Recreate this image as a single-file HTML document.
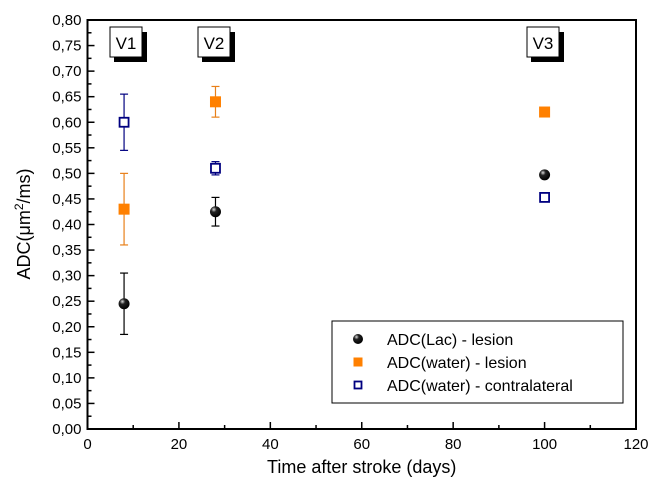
<!DOCTYPE html>
<html><head><meta charset="utf-8"><style>
body{margin:0;background:#fff;width:658px;height:484px;overflow:hidden}
svg{font-family:"Liberation Sans",Arial,sans-serif}
</style></head><body>
<svg id="c" width="658" height="484"></svg>
<script>
const days=[8,28,100];
const lacVals=[0.245,0.425,0.497];
const lacErr=[0.06,0.028,0];
const waterVals=[0.43,0.64,0.62];
const waterErr=[0.07,0.03,0];
const contraVals=[0.60,0.51,0.453];
const contraErr=[0.055,0.013,0];
const xTicks=[0,20,40,60,80,100,120];
const yTicks=[0,0.05,0.1,0.15,0.2,0.25,0.3,0.35,0.4,0.45,0.5,0.55,0.6,0.65,0.7,0.75,0.8];
const visitLabels=["V1","V2","V3"];

const L=87.5,R=636,T=20,B=429;
const sx=v=>L+(v-0)/120*(R-L);
const sy=v=>B-(v-0)/0.8*(B-T);
const svg=document.getElementById('c');
const NS='http://www.w3.org/2000/svg';
function mk(tag,attrs,parent){const e=document.createElementNS(NS,tag);for(const k in attrs)e.setAttribute(k,attrs[k]);(parent||svg).appendChild(e);return e;}

// frame
const frame=mk('rect',{x:L,y:T,width:R-L,height:B-T,fill:'none',stroke:'#000','stroke-width':2});



// y ticks
yTicks.forEach((v,i)=>{
  const y=sy(v);
  mk('line',{x1:L,x2:L+7,y1:y,y2:y,stroke:'#000','stroke-width':1.5});
  if(i<yTicks.length-1){const ym=sy(v+0.025);mk('line',{x1:L,x2:L+4,y1:ym,y2:ym,stroke:'#000','stroke-width':1.5});}
  const t=mk('text',{x:L-6,y:y+5,'text-anchor':'end','font-size':15,fill:'#000'});
  t.textContent=v.toFixed(2).replace('.',',');
  
  
});
// x ticks
xTicks.forEach((v,i)=>{
  const x=sx(v);
  mk('line',{x1:x,x2:x,y1:B,y2:B-7,stroke:'#000','stroke-width':1.5});
  if(i<xTicks.length-1){const xm=sx(v+10);mk('line',{x1:xm,x2:xm,y1:B,y2:B-4,stroke:'#000','stroke-width':1.5});}
  const t=mk('text',{x:x,y:B+20,'text-anchor':'middle','font-size':15,fill:'#000'});
  t.textContent=v;
  
  
});
const xt=mk('text',{x:(L+R)/2,y:473,'text-anchor':'middle','font-size':18,fill:'#000'});
xt.textContent='Time after stroke (days)';


const yt=mk('text',{x:0,y:0,'text-anchor':'middle','font-size':18,fill:'#000',transform:'translate(30,224) rotate(-90)'});
yt.innerHTML='ADC(μm<tspan dy="-7" font-size="12">2</tspan><tspan dy="7">/ms)</tspan>';



// visit labels
const vx=[126,214,543];
visitLabels.forEach((s,i)=>{
  const g=mk('g',{});
  
  
  mk('rect',{x:vx[i]-12,y:32,width:33,height:30,fill:'#000'},g);
  mk('rect',{x:vx[i]-16,y:27,width:32,height:30,fill:'#fff',stroke:'#000','stroke-width':1},g);
  const t=mk('text',{x:vx[i],y:49,'text-anchor':'middle','font-size':17},g);t.textContent=s;
});

function errbar(x,v,e,col){
  if(!e)return;
  const g=mk('g',{stroke:col,'stroke-width':1.2});
  
  
  mk('line',{x1:x,x2:x,y1:sy(v+e),y2:sy(v-e)},g);
  mk('line',{x1:x-4,x2:x+4,y1:sy(v+e),y2:sy(v+e)},g);
  mk('line',{x1:x-4,x2:x+4,y1:sy(v-e),y2:sy(v-e)},g);
}
const grad=mk('defs',{});
grad.innerHTML='<radialGradient id="sph" cx="0.35" cy="0.3" r="0.7"><stop offset="0" stop-color="#ddd"/><stop offset="0.35" stop-color="#222"/><stop offset="1" stop-color="#000"/></radialGradient>';
function ball(x,y,p){return mk('circle',{cx:x,cy:y,r:5.5,fill:'url(#sph)'},p);}
function sq(x,y,p){return mk('rect',{x:x-5.5,y:y-5.5,width:11,height:11,fill:'#ff8000'},p);}
function osq(x,y,p){return mk('rect',{x:x-4.5,y:y-4.5,width:9,height:9,fill:'#fff',stroke:'#000080','stroke-width':1.8},p);}

days.forEach((d,i)=>{
  const x=sx(d);
  errbar(x,waterVals[i],waterErr[i],'#e8801a');
  errbar(x,contraVals[i],contraErr[i],'#000080');
  errbar(x,lacVals[i],lacErr[i],'#000');
  const a=sq(x,sy(waterVals[i]));
  
  
  const b=osq(x,sy(contraVals[i]));
  
  
  const c=ball(x,sy(lacVals[i]));
  
  
});

// legend
const lg=mk('g',{});


mk('rect',{x:332,y:321,width:291,height:82,fill:'#fff',stroke:'#000','stroke-width':1},lg);
const items=['ADC(Lac) - lesion','ADC(water) - lesion','ADC(water) - contralateral'];
const fns=[ball,sq,osq];
items.forEach((s,i)=>{
  const y=339+i*23;
  const g=mk('g',{},lg);
  
  
  const m=fns[i](358,y,g);
  if(i==0)m.setAttribute('r',5);
  if(i==1){m.setAttribute('width',9);m.setAttribute('height',9);m.setAttribute('x',353.5);m.setAttribute('y',y-4.5);}
  if(i==2){m.setAttribute('width',7);m.setAttribute('height',7);m.setAttribute('x',354.5);m.setAttribute('y',y-3.5);}
  const t=mk('text',{x:387,y:y+6,'font-size':16},g);t.textContent=s;
});
</script>
</body></html>
